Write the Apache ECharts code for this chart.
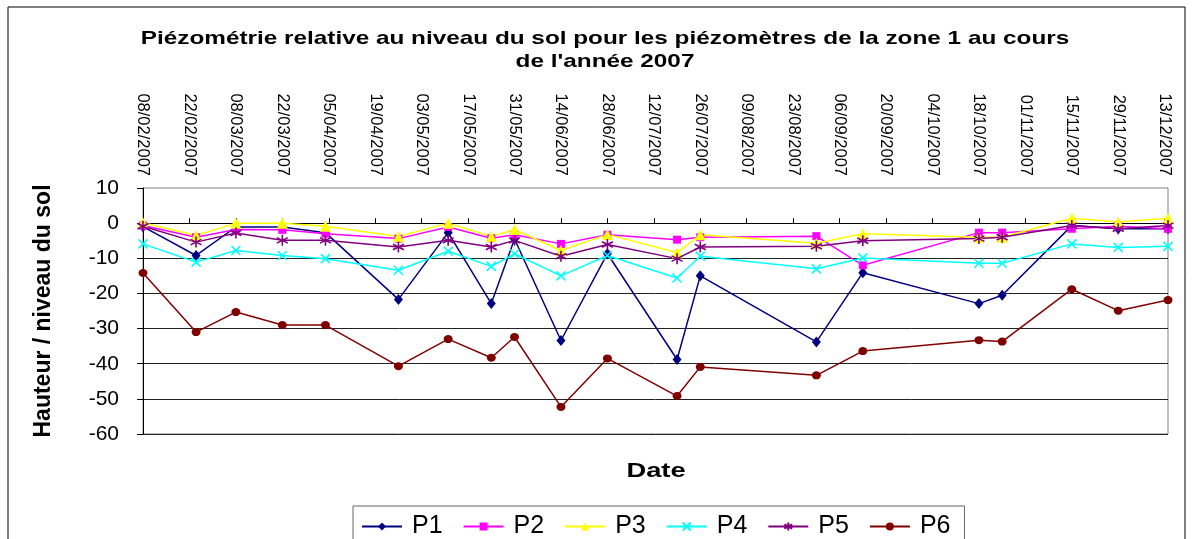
<!DOCTYPE html>
<html>
<head>
<meta charset="utf-8">
<title>Piézométrie zone 1 - 2007</title>
<script src="https://cdn.jsdelivr.net/npm/echarts@6/dist/echarts.min.js"></script>
<style>
    html, body { margin: 0; padding: 0; background: #fff; }
    #main { width: 1194px; height: 539px; }
</style>
</head>
<body>
<div id="main"></div>
<script>
// dates des relevés (jj/mm/aaaa)
const dates = ['08/02/2007', '24/02/2007', '08/03/2007', '22/03/2007', '04/04/2007', '26/04/2007',
    '11/05/2007', '24/05/2007', '31/05/2007', '14/06/2007', '28/06/2007', '19/07/2007',
    '26/07/2007', '30/08/2007', '13/09/2007', '18/10/2007', '25/10/2007', '15/11/2007',
    '29/11/2007', '14/12/2007'];

// hauteur / niveau du sol pour chaque piézomètre
const p1 = [-1, -9.2, -1.1, -1.1, -2.7, -21.7, -2.7, -22.9, -4.5, -33.4, -8.7, -38.8, -15, -33.8, -14.1, -22.9, -20.5, -0.7, -1.6, -1.6];
const p2 = [-0.7, -4.0, -1.8, -1.9, -3.0, -4.4, -1.1, -4.3, -3.3, -5.9, -3.3, -4.7, -4.0, -3.7, -12.0, -2.7, -2.7, -1.6, -0.9, -1.6];
const p3 = [0.1, -3.5, 0, 0, -0.9, -3.8, 0, -3.8, -1.8, -7.8, -3.2, -8.4, -3.3, -5.7, -3.0, -4.0, -4.0, 1.4, 0.3, 1.4];
const p4 = [-5.9, -11.1, -7.8, -9.2, -10.1, -13.4, -8.0, -12.3, -8.7, -15.0, -9.2, -15.6, -9.4, -13.0, -9.9, -11.4, -11.4, -5.9, -6.9, -6.6];
const p5 = [-0.9, -5.4, -2.8, -4.9, -4.9, -6.8, -4.9, -6.8, -4.9, -9.4, -6.1, -10.1, -6.8, -6.6, -5.0, -4.4, -4.0, -0.7, -1.6, -0.7];
const p6 = [-14.2, -31.0, -25.3, -29.0, -29.0, -40.7, -33.0, -38.3, -32.4, -52.3, -38.5, -49.2, -40.9, -43.3, -36.4, -33.3, -33.7, -18.8, -24.9, -21.9];

// graduations de l'axe des dates : tous les 14 jours à partir du premier relevé
const axisStart = '08/02/2007';
const axisEnd = '14/12/2007';
const tickDays = 14;
const yTicks = [-60, 10, 10]; // min, max, pas

const DAY = 24 * 3600 * 1000;
function parseDate(s) {
    let p = s.split('/');
    return Date.UTC(+p[2], +p[1] - 1, +p[0]);
}
const t0 = parseDate(axisStart);
// nombre de jours depuis le début de l'axe
function dayOf(s) {
    return Math.round((parseDate(s) - t0) / DAY);
}
function fmtDay(v) {
    let d = new Date(t0 + v * DAY);
    let dd = String(d.getUTCDate()).padStart(2, '0');
    let mm = String(d.getUTCMonth() + 1).padStart(2, '0');
    return dd + '/' + mm + '/' + d.getUTCFullYear();
}

// symboles en traits (croix et étoile d'Excel)
const crossPath = 'path://M0,0L10,10M10,0L0,10';
const starPath = 'path://M5,0L5,10M0.7,2.5L9.3,7.5M9.3,2.5L0.7,7.5';

function makeSeries(name, values, color, symbol, size, stroke) {
    return {
        name: name,
        type: 'line',
        data: dates.map((d, i) => [dayOf(d), values[i]]),
        symbol: symbol,
        symbolSize: size,
        showAllSymbol: true,
        xAxisIndex: 1,
        lineStyle: { color: color, width: 1.5 },
        itemStyle: stroke
            ? { color: 'none', borderColor: color, borderWidth: 1.6 }
            : { color: color, borderWidth: 0 },
        emphasis: { disabled: true },
        animation: false
    };
}

let chart = echarts.init(document.getElementById('main'));
let font = '"Liberation Sans", Arial, sans-serif';

let option = {
    backgroundColor: '#fff',
    textStyle: { fontFamily: font, color: '#000' },
    graphic: [{
        // cadre du graphique
        type: 'rect',
        shape: { x: 8, y: 7, width: 1177, height: 560 },
        style: { fill: 'none', stroke: '#000', lineWidth: 1 },
        silent: true
    }, {
        // titre (texte élargi comme dans Excel)
        type: 'text',
        x: 605,
        y: 27,
        scaleX: 1.28,
        silent: true,
        style: {
            text: 'Piézométrie relative au niveau du sol pour les piézomètres de la zone 1 au cours\nde l\'année 2007',
            font: 'bold 19px "Liberation Sans", Arial, sans-serif',
            textAlign: 'center',
            verticalAlign: 'top',
            lineHeight: 23,
            fill: '#000'
        }
    }, {
        // titre de l'axe des dates
        type: 'text',
        x: 656,
        y: 471,
        scaleX: 1.3,
        silent: true,
        style: {
            text: 'Date',
            font: 'bold 21px "Liberation Sans", Arial, sans-serif',
            textAlign: 'center',
            verticalAlign: 'middle',
            fill: '#000'
        }
    }],
    legend: {
        left: 353,
        top: 506,
        padding: [8, 14, 20, 8],
        itemWidth: 40,
        itemHeight: 10,
        itemGap: 20,
        borderColor: '#666',
        borderWidth: 1,
        textStyle: { fontSize: 25, fontFamily: font, color: '#000', padding: [0, 0, 0, 5] },
        data: ['P1', 'P2', 'P3', 'P4', 'P5', 'P6']
    },
    grid: {
        left: 143,
        right: 26,
        top: 188,
        bottom: 105,
        show: true,
        borderColor: '#808080',
        borderWidth: 1
    },
    xAxis: [{
        // étiquettes des dates en haut
        type: 'value',
        position: 'top',
        min: 0,
        max: dayOf(axisEnd),
        interval: tickDays,
        axisLine: { show: false, onZero: false },
        axisTick: { show: false },
        splitLine: { show: false },
        axisLabel: {
            rotate: 90,
            margin: 12,
            fontSize: 16.5,
            color: '#000',
            showMaxLabel: false,
            formatter: fmtDay
        }
    }, {
        // axe passant par 0 avec graduations
        type: 'value',
        position: 'bottom',
        min: 0,
        max: dayOf(axisEnd),
        interval: tickDays,
        axisLine: { show: true, onZero: true, lineStyle: { color: '#000', width: 1 } },
        axisTick: { show: true, inside: true, length: 5, lineStyle: { color: '#000' } },
        axisLabel: { show: false },
        splitLine: { show: false }
    }],
    yAxis: {
        type: 'value',
        min: yTicks[0],
        max: yTicks[1],
        interval: yTicks[2],
        name: 'Hauteur / niveau du sol',
        nameLocation: 'middle',
        nameGap: 88,
        nameTextStyle: { fontSize: 23, fontWeight: 'bold', fontFamily: font, color: '#000' },
        axisLine: { show: true, lineStyle: { color: '#000', width: 1 } },
        axisTick: { show: true, length: 6, lineStyle: { color: '#000' } },
        axisLabel: { fontSize: 21, color: '#000', margin: 24 },
        splitLine: { show: true, showMaxLine: false, lineStyle: { color: '#222', width: 1 } }
    },
    series: [
        makeSeries('P1', p1, '#000080', 'diamond', [9, 11], false),
        makeSeries('P2', p2, '#ff00ff', 'rect', 8, false),
        makeSeries('P3', p3, '#ffff00', 'triangle', 11, false),
        makeSeries('P4', p4, '#00ffff', crossPath, 9, true),
        makeSeries('P5', p5, '#800080', starPath, 11, true),
        makeSeries('P6', p6, '#800000', 'circle', [9, 8], false)
    ]
};
chart.setOption(option);
</script>
</body>
</html>
